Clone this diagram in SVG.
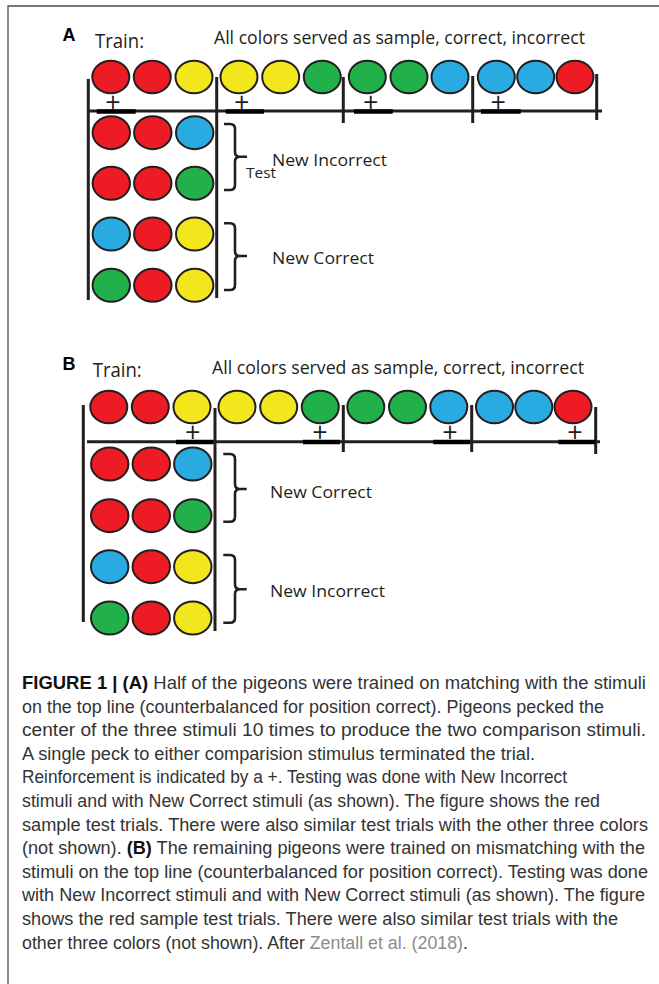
<svg xmlns="http://www.w3.org/2000/svg" width="659" height="984" viewBox="0 0 659 984">
<style>
.bg{fill:#ffffff}
.frame{stroke:#4d4d4d;stroke-width:1.3;fill:none}
.c{stroke:#231f20;stroke-width:2}
.r{fill:#ed1c24}.y{fill:#f2e71c}.g{fill:#22b04b}.b{fill:#29abe2}
.ln{stroke:#231f20;stroke-width:3;fill:none}
.thick{stroke:#000;stroke-width:4.5;fill:none}
.br{stroke:#231f20;stroke-width:2.6;fill:none;stroke-linejoin:round}
.lbl{font-family:"Open Sans","Noto Sans",sans-serif;fill:#231f20}
.pl{font-family:"Open Sans","Noto Sans",sans-serif;fill:#231f20;font-size:27px;text-anchor:middle}
.pan{font-family:"Liberation Sans",Arial,sans-serif;font-weight:bold;font-size:18px;fill:#000}
.cap{font-family:"Liberation Sans",Arial,sans-serif;font-size:17.5px;fill:#333333}
.bd{font-weight:bold;fill:#111}
.ref{fill:#8c8c8c}
</style>
<rect class="bg" x="0" y="0" width="659" height="984"/>
<path class="frame" d="M8,984 V6 H659"/>

<!-- Panel A -->
<g id="panelA-labels">
<text class="pan" x="62.5" y="40.5">A</text>
<text class="lbl" x="95" y="48" font-size="20" textLength="49" lengthAdjust="spacingAndGlyphs">Train:</text>
<text class="lbl" x="214" y="44" font-size="18" textLength="371" lengthAdjust="spacingAndGlyphs">All colors served as sample, correct, incorrect</text>
</g>
<g id="A-train-row">
<ellipse class="c r" cx="110.8" cy="77" rx="18.5" ry="16.3"/>
<ellipse class="c r" cx="152.3" cy="77" rx="18.5" ry="16.3"/>
<ellipse class="c y" cx="194" cy="77" rx="18.5" ry="16.3"/>
<ellipse class="c y" cx="239" cy="77" rx="18.5" ry="16.3"/>
<ellipse class="c y" cx="280.7" cy="77" rx="18.5" ry="16.3"/>
<ellipse class="c g" cx="322.3" cy="77" rx="18.5" ry="16.3"/>
<ellipse class="c g" cx="367.3" cy="77" rx="18.5" ry="16.3"/>
<ellipse class="c g" cx="409" cy="77" rx="18.5" ry="16.3"/>
<ellipse class="c b" cx="450" cy="77" rx="18.5" ry="16.3"/>
<ellipse class="c b" cx="496.3" cy="77" rx="18.5" ry="16.3"/>
<ellipse class="c b" cx="535.7" cy="77" rx="18.5" ry="16.3"/>
<ellipse class="c r" cx="575" cy="77" rx="18.5" ry="16.3"/>
</g>
<g id="A-test-rows">
<ellipse class="c r" cx="111.3" cy="132.7" rx="18.7" ry="16.5"/>
<ellipse class="c r" cx="152.8" cy="132.7" rx="18.7" ry="16.5"/>
<ellipse class="c b" cx="194.7" cy="132.7" rx="18.7" ry="16.5"/>
<ellipse class="c r" cx="111.3" cy="183.3" rx="18.7" ry="16.5"/>
<ellipse class="c r" cx="152.8" cy="183.3" rx="18.7" ry="16.5"/>
<ellipse class="c g" cx="194.7" cy="183.3" rx="18.7" ry="16.5"/>
<ellipse class="c b" cx="111.3" cy="234" rx="18.7" ry="16.5"/>
<ellipse class="c r" cx="152.8" cy="234" rx="18.7" ry="16.5"/>
<ellipse class="c y" cx="194.7" cy="234" rx="18.7" ry="16.5"/>
<ellipse class="c g" cx="111.3" cy="285.3" rx="18.7" ry="16.5"/>
<ellipse class="c r" cx="152.8" cy="285.3" rx="18.7" ry="16.5"/>
<ellipse class="c y" cx="194.7" cy="285.3" rx="18.7" ry="16.5"/>
</g>
<g id="A-lines">
<path class="ln" d="M88.3,79 V300 M216.7,77 V298 M343.3,77 V123 M472.7,76 V123 M596.7,74 V120 M88,111 H602"/>
<path class="thick" d="M96.7,111.5 H135.7 M225.7,111.5 H264 M354,111.5 H392.7 M481,111.5 H520.7"/>
<text class="pl" x="113" y="112">+</text>
<text class="pl" x="241.7" y="112">+</text>
<text class="pl" x="370.7" y="112">+</text>
<text class="pl" x="498.3" y="112">+</text>
</g>
<g id="A-newIncorrect">
<path class="br" d="M224,124 H230 Q235,124 235,129 V152 Q235,156.7 240,156.7 H247 M240,156.7 Q235,156.7 235,161.5 V185 Q235,190 230,190 H224"/>
<text class="lbl" x="272" y="165.7" font-size="17" textLength="115" lengthAdjust="spacingAndGlyphs">New Incorrect</text>
<text class="lbl" x="246" y="178.3" font-size="15" textLength="30" lengthAdjust="spacingAndGlyphs">Test</text>
</g>
<g id="A-newCorrect">
<path class="br" d="M224,223.3 H230 Q235,223.3 235,228.3 V251.3 Q235,256 240,256 H247 M240,256 Q235,256 235,260.7 V285 Q235,290 230,290 H224"/>
<text class="lbl" x="272" y="264.3" font-size="17" textLength="102" lengthAdjust="spacingAndGlyphs">New Correct</text>
</g>

<!-- Panel B -->
<g id="panelB-labels">
<text class="pan" x="62.5" y="370">B</text>
<text class="lbl" x="92.7" y="377.3" font-size="20" textLength="49" lengthAdjust="spacingAndGlyphs">Train:</text>
<text class="lbl" x="212" y="373.5" font-size="18" textLength="372" lengthAdjust="spacingAndGlyphs">All colors served as sample, correct, incorrect</text>
</g>
<g id="B-train-row">
<ellipse class="c r" cx="108.8" cy="407" rx="18.5" ry="16.3"/>
<ellipse class="c r" cx="150.3" cy="407" rx="18.5" ry="16.3"/>
<ellipse class="c y" cx="192" cy="407" rx="18.5" ry="16.3"/>
<ellipse class="c y" cx="237" cy="407" rx="18.5" ry="16.3"/>
<ellipse class="c y" cx="278.7" cy="407" rx="18.5" ry="16.3"/>
<ellipse class="c g" cx="320.3" cy="407" rx="18.5" ry="16.3"/>
<ellipse class="c g" cx="365.8" cy="407" rx="18.5" ry="16.3"/>
<ellipse class="c g" cx="407.5" cy="407" rx="18.5" ry="16.3"/>
<ellipse class="c b" cx="448.8" cy="407" rx="18.5" ry="16.3"/>
<ellipse class="c b" cx="494.5" cy="407" rx="18.5" ry="16.3"/>
<ellipse class="c b" cx="533.8" cy="407" rx="18.5" ry="16.3"/>
<ellipse class="c r" cx="573" cy="407" rx="18.5" ry="16.3"/>
</g>
<g id="B-test-rows">
<ellipse class="c r" cx="109.7" cy="464" rx="18.7" ry="16.5"/>
<ellipse class="c r" cx="151.3" cy="464" rx="18.7" ry="16.5"/>
<ellipse class="c b" cx="192.8" cy="464" rx="18.7" ry="16.5"/>
<ellipse class="c r" cx="109.7" cy="515.7" rx="18.7" ry="16.5"/>
<ellipse class="c r" cx="151.3" cy="515.7" rx="18.7" ry="16.5"/>
<ellipse class="c g" cx="192.8" cy="515.7" rx="18.7" ry="16.5"/>
<ellipse class="c b" cx="109.7" cy="566.7" rx="18.7" ry="16.5"/>
<ellipse class="c r" cx="151.3" cy="566.7" rx="18.7" ry="16.5"/>
<ellipse class="c y" cx="192.8" cy="566.7" rx="18.7" ry="16.5"/>
<ellipse class="c g" cx="109.7" cy="618" rx="18.7" ry="16.5"/>
<ellipse class="c r" cx="151.3" cy="618" rx="18.7" ry="16.5"/>
<ellipse class="c y" cx="192.8" cy="618" rx="18.7" ry="16.5"/>
</g>
<g id="B-lines">
<path class="ln" d="M83.3,405 V622 M215,408 V631 M343.3,405 V452 M471.7,405 V452 M595.7,407 V454 M87,441.7 H600"/>
<path class="thick" d="M176,442 H213.3 M303,442 H340 M433.3,442 H470 M558.3,442 H595.7"/>
<text class="pl" x="192.7" y="442">+</text>
<text class="pl" x="320" y="442">+</text>
<text class="pl" x="450" y="442">+</text>
<text class="pl" x="575" y="442">+</text>
</g>
<g id="B-newCorrect">
<path class="br" d="M223.3,454 H230 Q235,454 235,459 V484 Q235,489 240,489 H246.7 M240,489 Q235,489 235,494 V516.7 Q235,521.7 230,521.7 H223.3"/>
<text class="lbl" x="270" y="498.3" font-size="17" textLength="102" lengthAdjust="spacingAndGlyphs">New Correct</text>
</g>
<g id="B-newIncorrect">
<path class="br" d="M223.3,555 H230 Q235,555 235,560 V584.3 Q235,589.3 240,589.3 H246.7 M240,589.3 Q235,589.3 235,594.3 V617.7 Q235,622.7 230,622.7 H223.3"/>
<text class="lbl" x="270" y="596.7" font-size="17" textLength="115" lengthAdjust="spacingAndGlyphs">New Incorrect</text>
</g>

<!-- Caption -->
<g id="caption" class="cap">
<text x="22" y="689" textLength="624" lengthAdjust="spacingAndGlyphs"><tspan class="bd">FIGURE 1 | (A)</tspan> Half of the pigeons were trained on matching with the stimuli</text>
<text x="22" y="712.6" textLength="582" lengthAdjust="spacingAndGlyphs">on the top line (counterbalanced for position correct). Pigeons pecked the</text>
<text x="22" y="736.2" textLength="624" lengthAdjust="spacingAndGlyphs">center of the three stimuli 10 times to produce the two comparison stimuli.</text>
<text x="22" y="759.8" textLength="513" lengthAdjust="spacingAndGlyphs">A single peck to either comparision stimulus terminated the trial.</text>
<text x="22" y="783.4" textLength="545" lengthAdjust="spacingAndGlyphs">Reinforcement is indicated by a +. Testing was done with New Incorrect</text>
<text x="22" y="807" textLength="578" lengthAdjust="spacingAndGlyphs">stimuli and with New Correct stimuli (as shown). The figure shows the red</text>
<text x="22" y="830.6" textLength="626" lengthAdjust="spacingAndGlyphs">sample test trials. There were also similar test trials with the other three colors</text>
<text x="22" y="854.2" textLength="623" lengthAdjust="spacingAndGlyphs">(not shown). <tspan class="bd">(B)</tspan> The remaining pigeons were trained on mismatching with the</text>
<text x="22" y="877.8" textLength="626" lengthAdjust="spacingAndGlyphs">stimuli on the top line (counterbalanced for position correct). Testing was done</text>
<text x="22" y="901.4" textLength="623" lengthAdjust="spacingAndGlyphs">with New Incorrect stimuli and with New Correct stimuli (as shown). The figure</text>
<text x="22" y="925" textLength="596" lengthAdjust="spacingAndGlyphs">shows the red sample test trials. There were also similar test trials with the</text>
<text x="22" y="948.6" textLength="446" lengthAdjust="spacingAndGlyphs">other three colors (not shown). After <tspan class="ref">Zentall et al. (2018)</tspan>.</text>
</g>
</svg>
